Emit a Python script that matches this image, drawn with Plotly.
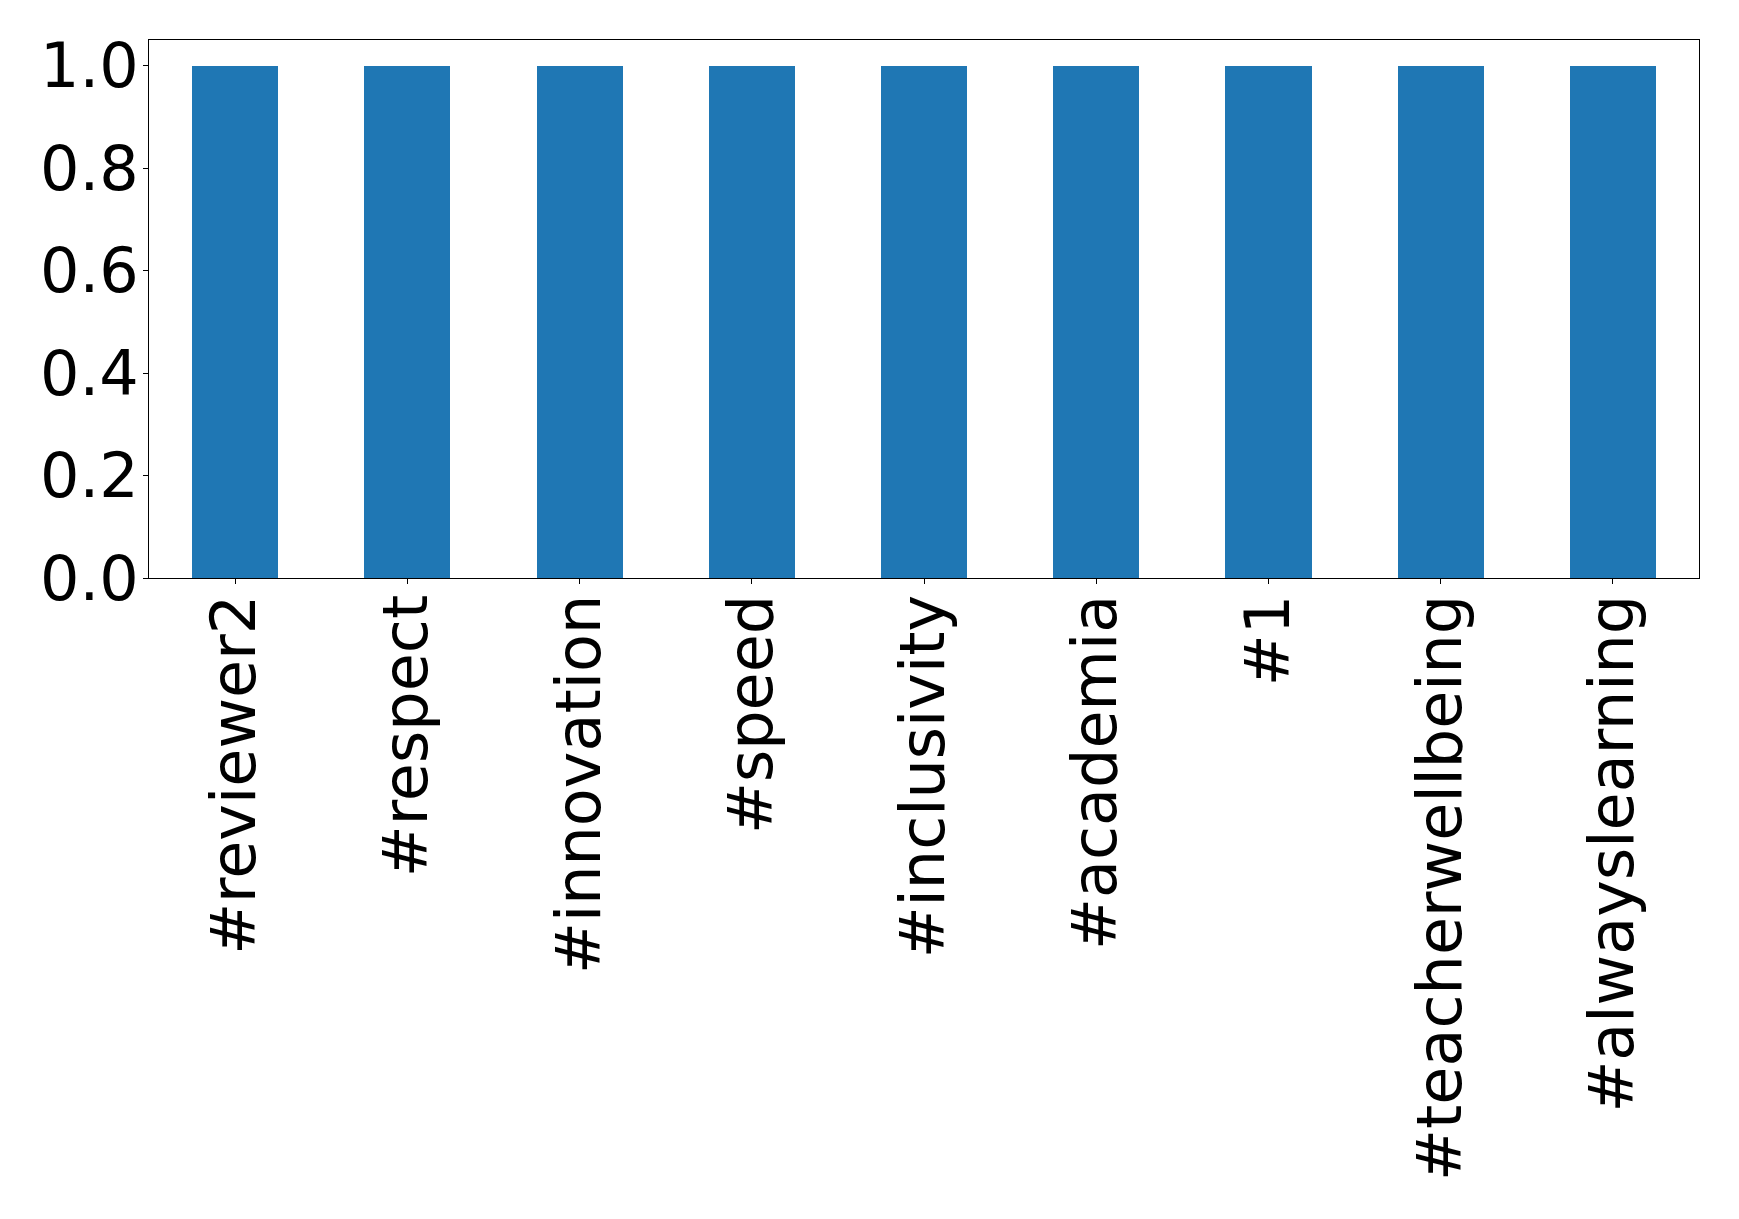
import plotly.graph_objects as go

categories = ["#reviewer2", "#respect", "#innovation", "#speed", "#inclusivity",
              "#academia", "#1", "#teacherwellbeing", "#alwayslearning"]
values = [1, 1, 1, 1, 1, 1, 1, 1, 1]
ytick_vals = [0.0, 0.2, 0.4, 0.6, 0.8, 1.0]
ytick_text = ["0.0", "0.2", "0.4", "0.6", "0.8", "1.0"]

fig = go.Figure(go.Bar(x=list(range(len(categories))), y=values,
                       marker=dict(color="#1f77b4", line=dict(width=0)),
                       width=0.5))

font = dict(family="DejaVu Sans", size=62, color="black")
fig.update_layout(
    width=1731, height=1211,
    margin=dict(l=141, r=40, t=32, b=641),
    paper_bgcolor="white", plot_bgcolor="white",
    showlegend=False,
    font=font,
    bargap=0,
)
fig.update_xaxes(
    range=[-0.5, len(categories) - 0.5],
    tickvals=list(range(len(categories))), ticktext=categories,
    tickangle=-90, ticks="outside", ticklen=5, tickwidth=1, tickcolor="black",
    showline=True, linecolor="black", linewidth=1, mirror=True,
    showgrid=False, zeroline=False, tickfont=font, automargin=False,
    ticklabelstandoff=-14,
)
fig.update_yaxes(
    range=[0, 1.05],
    tickvals=ytick_vals, ticktext=ytick_text,
    ticks="outside", ticklen=5, tickwidth=1, tickcolor="black",
    showline=True, linecolor="black", linewidth=1, mirror=True,
    showgrid=False, zeroline=False, tickfont=font, automargin=False,
    ticklabelstandoff=-8,
)
fig.write_html("out.html")
